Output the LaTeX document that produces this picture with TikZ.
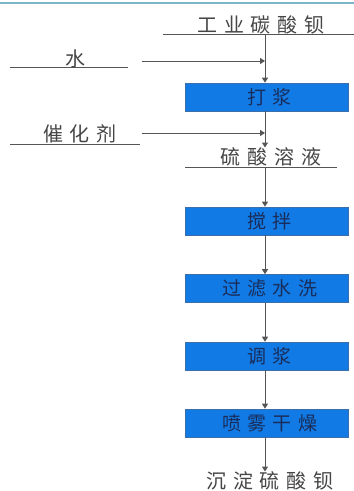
\documentclass[tikz,border=0pt]{standalone}
\usepackage{fontspec}
\newfontfamily\cjk[LetterSpace=34]{Noto Sans CJK SC}
\usetikzlibrary{arrows.meta}
\definecolor{linegray}{RGB}{85,85,85}
\definecolor{boxblue}{RGB}{18,122,228}
\definecolor{boxedge}{RGB}{60,110,170}
\definecolor{topline}{RGB}{125,182,200}
\definecolor{txt}{RGB}{70,70,70}
\definecolor{boxtxt}{RGB}{25,45,90}
\newcommand{\bal}{\hspace{6.4pt}}
\tikzset{
  lbl/.style={inner sep=0pt, text=txt, font=\cjk\fontsize{20}{20}\selectfont},
  stepbox/.style={draw=boxedge, line width=0.6pt, fill=boxblue, minimum width=163pt, minimum height=28pt, inner sep=0pt, text=boxtxt, font=\cjk\fontsize{19}{19}\selectfont},
  uline/.style={draw=linegray, line width=0.7pt},
  arr/.style={draw=linegray, line width=1pt, -{Triangle[width=6pt,length=5pt]}},
}
\begin{document}
\begin{tikzpicture}[x=1pt,y=-1pt]
\useasboundingbox (0,0) rectangle (354,491);
\fill[white] (0,0) rectangle (354,491);
\draw[topline, line width=2pt] (0,3) -- (354,3);
% top input
\node[lbl] (t1) at (261,25) {工业碳酸钡};
\draw[uline] (163,34) -- (354,34);
\coordinate (j0) at (265,34);
% water
\node[lbl] (w) at (75,59) {水};
\draw[uline] (10,67) -- (128,67);
\coordinate (ws) at (142,61);
\coordinate (wj) at (265,61);
% boxes
\node[stepbox] (b1) at (266.5,97) {\bal 打浆};
\node[lbl] (c) at (80,134) {催化剂};
\draw[uline] (10,144) -- (140,144);
\coordinate (cs) at (142,133);
\coordinate (cj) at (265,133);
\node[lbl] (t2) at (271,157) {硫酸溶液};
\draw[uline] (185,167) -- (337,167);
\coordinate (j1) at (265,167);
\node[stepbox] (b2) at (266.5,221) {\bal 搅拌};
\node[stepbox] (b3) at (266.5,288.5) {\bal 过滤水洗};
\node[stepbox] (b4) at (266.5,356) {\bal 调浆};
\node[stepbox] (b5) at (266.5,423) {\bal 喷雾干燥};
\node[lbl] (t3) at (270,481) {沉淀硫酸钡};
% connectors
\draw[arr] (j0) -- (j0 |- b1.north);
\draw[arr] (ws) -- (wj);
\draw[arr] (cs) -- (cj);
\draw[arr] (j0 |- b1.south) -- (j0 |- t2.north);
\draw[arr] (j1) -- (j1 |- b2.north);
\draw[arr] (j1 |- b2.south) -- (j1 |- b3.north);
\draw[arr] (j1 |- b3.south) -- (j1 |- b4.north);
\draw[arr] (j1 |- b4.south) -- (j1 |- b5.north);
\draw[arr] (j1 |- b5.south) -- (j1 |- t3.north);
\end{tikzpicture}
\end{document}
